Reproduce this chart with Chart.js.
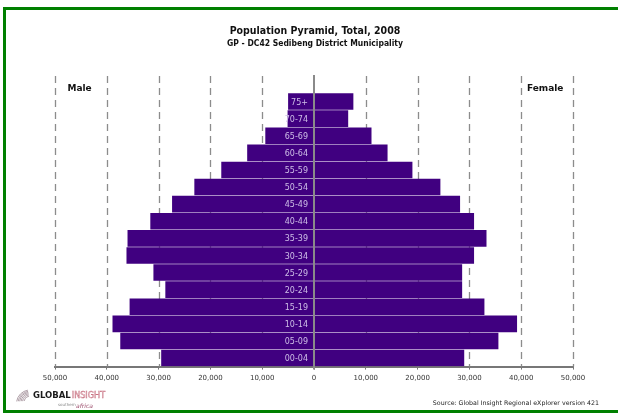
<!DOCTYPE html>
<html>
<head>
<meta charset="utf-8">
<script src="https://cdn.jsdelivr.net/npm/chart.js@4/dist/chart.umd.min.js"></script>
<style>
  html, body { margin: 0; padding: 0; background: #fff; }
  #wrap { width: 618px; height: 414px; position: relative; }
</style>
</head>
<body>
<div id="wrap"><canvas id="PyramidChart" width="618" height="414"></canvas></div>
<script>
// age groups, bottom to top
var ageGroups = ["00-04", "05-09", "10-14", "15-19", "20-24", "25-29", "30-34", "35-39",
                 "40-44", "45-49", "50-54", "55-59", "60-64", "65-69", "70-74", "75+"];
var maleCount = [29500, 37400, 38900, 35600, 28700, 31000, 36200, 36000,
                 31600, 27400, 23100, 17900, 12900, 9400, 5100, 5000];
var femaleCount = [29000, 35600, 39200, 32900, 28600, 28600, 30900, 33300,
                   30900, 28200, 24400, 19000, 14200, 11100, 6600, 7600];
var xTicks = [-50000, -40000, -30000, -20000, -10000, 0, 10000, 20000, 30000, 40000, 50000];

var titleText = "Population Pyramid, Total, 2008";
var subTitleText = "GP - DC42 Sedibeng District Municipality";
var sourceText = "Source: Global Insight Regional eXplorer version 421";

var barColor = "#400080";
var fontName = "'DejaVu Sans', Verdana, sans-serif";
var titleFont = "'DejaVu Sans Condensed', 'DejaVu Sans', sans-serif";

// gridlines, zero line and labels drawn on top of the library scales
var pyramidExtras = {
    id: "pyramidExtras",
    beforeDatasetsDraw(chart) {
        let ctx = chart.ctx;
        let xs = chart.scales.x;
        let ys = chart.scales.y;
        let rowH = Math.abs(ys.getPixelForValue(0) - ys.getPixelForValue(1));
        let top = chart.chartArea.top - rowH;
        ctx.save();
        ctx.strokeStyle = "#8c8c8c";
        ctx.lineWidth = 1.3;
        ctx.setLineDash([7, 5]);
        xTicks.forEach((v) => {
            if (v === 0) return;
            let px = Math.round(xs.getPixelForValue(v)) + 0.5;
            ctx.beginPath();
            ctx.moveTo(px, top);
            ctx.lineTo(px, chart.chartArea.bottom);
            ctx.stroke();
        });
        ctx.restore();
    },
    afterDatasetsDraw(chart) {
        let ctx = chart.ctx;
        let xs = chart.scales.x;
        let ys = chart.scales.y;
        let rowH = Math.abs(ys.getPixelForValue(0) - ys.getPixelForValue(1));
        let top = chart.chartArea.top - rowH;
        let zx = xs.getPixelForValue(0);

        ctx.save();
        // category labels inside the male bars
        ctx.fillStyle = "#cdbde6";
        ctx.font = "8px " + fontName;
        ctx.textAlign = "right";
        ctx.textBaseline = "middle";
        ageGroups.forEach((g, i) => {
            ctx.fillText(g, zx - 6, ys.getPixelForValue(i) + 1);
        });

        // zero line
        ctx.strokeStyle = "#8a8a8a";
        ctx.lineWidth = 2;
        ctx.beginPath();
        ctx.moveTo(zx, top - 1);
        ctx.lineTo(zx, chart.chartArea.bottom + 3);
        ctx.stroke();

        // Male / Female
        ctx.fillStyle = "#111";
        ctx.font = "bold 9px " + fontName;
        ctx.textAlign = "left";
        ctx.textBaseline = "middle";
        ctx.fillText("Male", xs.getPixelForValue(-47600), top + 13);
        ctx.fillText("Female", xs.getPixelForValue(41100), top + 13);

        // titles
        ctx.textAlign = "center";
        ctx.font = "bold 10.5px " + titleFont;
        ctx.fillText(titleText, zx + 1, 31);
        ctx.font = "bold 8.5px " + titleFont;
        ctx.fillText(subTitleText, zx + 1, 44);

        // source
        ctx.fillStyle = "#222";
        ctx.font = "6.3px " + fontName;
        ctx.textAlign = "right";
        ctx.fillText(sourceText, 599, 403);

        // logo
        ctx.strokeStyle = "#b0a0a8";
        ctx.lineWidth = 1;
        for (let k = 0; k < 6; k++) {
            ctx.beginPath();
            ctx.arc(30, 402 + k * 0.3, 6 + k * 1.5, Math.PI * 1.05, Math.PI * 1.45);
            ctx.stroke();
        }
        ctx.textAlign = "left";
        ctx.fillStyle = "#1a1a1a";
        ctx.font = "bold 8.5px " + fontName;
        ctx.fillText("GLOBAL", 33, 396);
        let gw = ctx.measureText("GLOBAL").width;
        ctx.font = "9px " + titleFont;
        ctx.strokeStyle = "#c87080";
        ctx.lineWidth = 0.5;
        ctx.strokeText("INSIGHT", 34 + gw, 396);
        ctx.fillStyle = "#888";
        ctx.font = "4px " + fontName;
        ctx.fillText("southern", 58, 405);
        ctx.font = "italic 6px " + fontName;
        ctx.fillStyle = "#9a4a6a";
        ctx.fillText("africa", 76, 406);

        // green frame
        ctx.fillStyle = "#008000";
        ctx.fillRect(3, 7, 615, 3);
        ctx.fillRect(3, 7, 3, 406);
        ctx.fillRect(3, 410, 615, 3);
        ctx.restore();
    }
};

const ctx = document.getElementById("PyramidChart");

var ChartView = new Chart(ctx, {
    type: "bar",
    data: {
        labels: ageGroups,
        datasets: [{
            label: "Male",
            data: maleCount.map((v) => -v),
            backgroundColor: barColor,
            barPercentage: 0.97,
            categoryPercentage: 1
        }, {
            label: "Female",
            data: femaleCount,
            backgroundColor: barColor,
            barPercentage: 0.97,
            categoryPercentage: 1
        }]
    },
    options: {
        indexAxis: "y",
        responsive: false,
        animation: false,
        layout: { padding: { top: 93, left: 55, right: 45, bottom: 28 } },
        plugins: {
            legend: { display: false },
            title: { display: false },
            tooltip: { enabled: false }
        },
        scales: {
            y: {
                stacked: true,
                reverse: true,
                display: false
            },
            x: {
                stacked: true,
                min: -50000,
                max: 50000,
                afterBuildTicks: (axis) => {
                    axis.ticks = xTicks.map((v) => ({ value: v }));
                },
                grid: {
                    drawOnChartArea: false,
                    drawTicks: true,
                    tickLength: 3,
                    color: "#777"
                },
                border: { display: true, color: "#777", width: 2 },
                ticks: {
                    color: "#333",
                    font: { family: fontName, size: 7 },
                    padding: 4,
                    maxRotation: 0,
                    autoSkip: false,
                    callback: (value) => Math.abs(value).toLocaleString("en-US")
                }
            }
        }
    },
    plugins: [pyramidExtras]
});
</script>
</body>
</html>
